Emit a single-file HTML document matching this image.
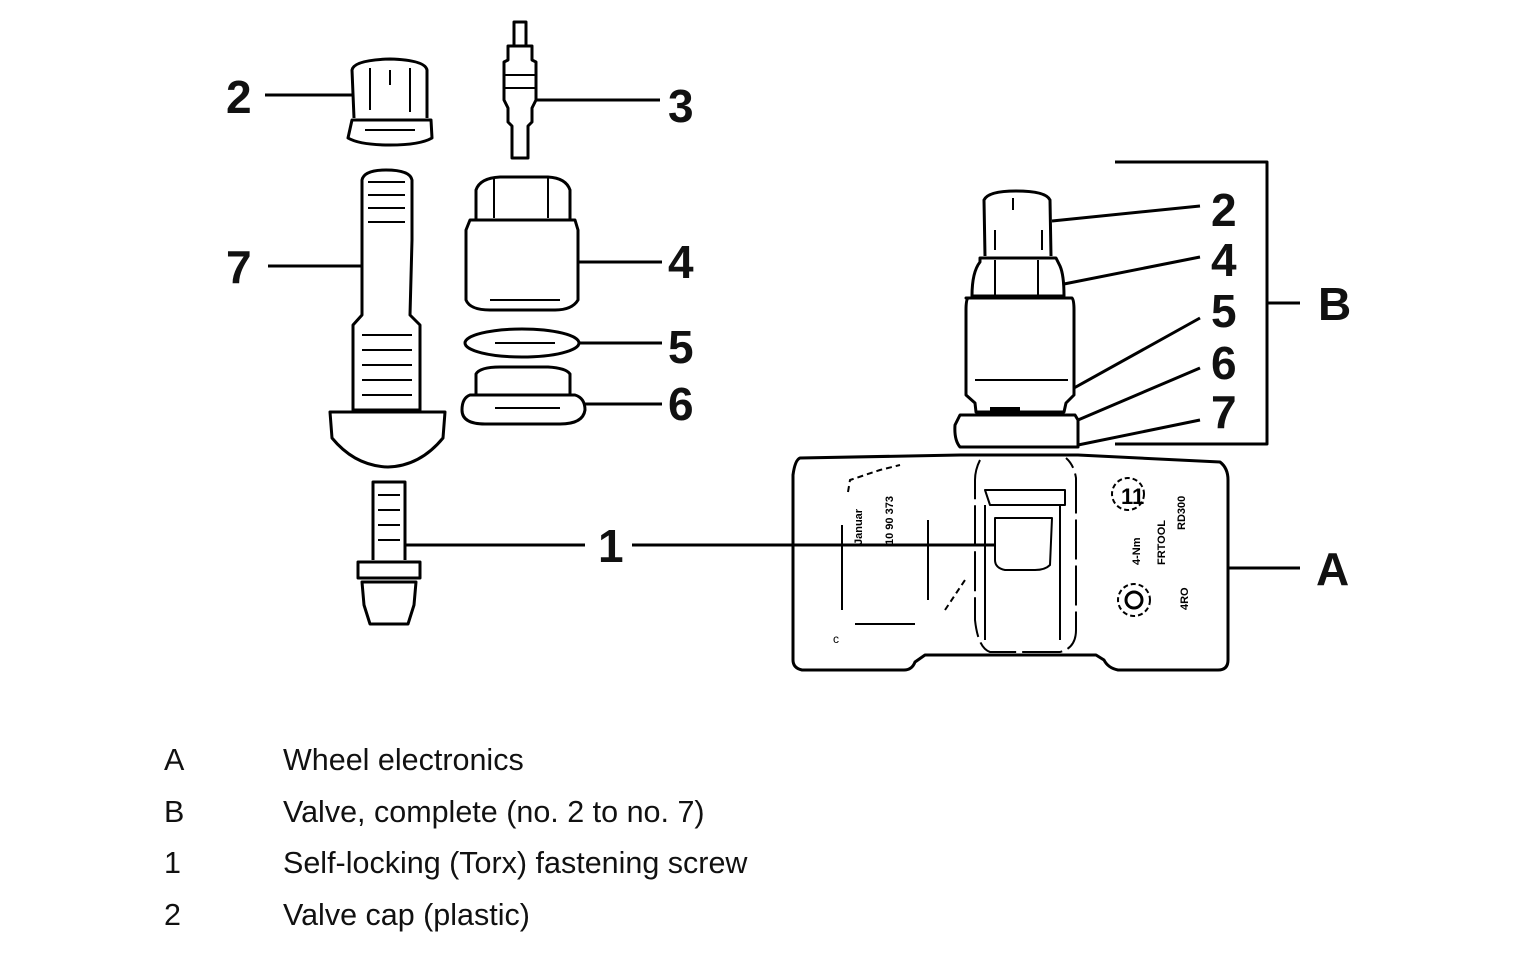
<!DOCTYPE html>
<html><head><meta charset="utf-8"><style>
body{margin:0;background:#fff;width:1536px;height:968px;overflow:hidden}
svg{position:absolute;left:0;top:0}
.lbl{font-family:"Liberation Sans",sans-serif;font-size:46px;font-weight:bold;fill:#111}
.leg{font-family:"Liberation Sans",sans-serif;font-size:30.5px;fill:#111}
</style></head><body>
<svg width="1536" height="968" viewBox="0 0 1536 968" fill="none" stroke="#000" stroke-width="3" stroke-linejoin="round">
<!-- left cap 2 -->
<path d="M354 118 L352 70 Q354 60 390 59 Q425 60 427 70 L427 118"/>
<line x1="370" y1="68" x2="370" y2="110" stroke-width="2"/><line x1="410" y1="68" x2="410" y2="112" stroke-width="2"/><line x1="390" y1="70" x2="390" y2="85" stroke-width="2"/>
<path d="M352 120 L431 120 L432 138 Q420 145 390 145 Q360 145 348 138 Z"/>
<line x1="365" y1="130" x2="415" y2="130" stroke-width="2"/>
<line x1="265" y1="95" x2="352" y2="95"/>
<!-- core 3 -->
<rect x="514" y="22" width="12" height="24"/>
<path d="M508 46 L532 46 L532 60 L536 62 L536 100 L532 108 L532 122 L528 126 L528 158 L512 158 L512 126 L508 122 L508 108 L504 100 L504 62 L508 60 Z"/>
<line x1="505" y1="75" x2="535" y2="75" stroke-width="2"/><line x1="505" y1="88" x2="535" y2="88" stroke-width="2"/>
<line x1="536" y1="100" x2="660" y2="100"/>
<!-- stem 7 -->
<path d="M362 240 L362 180 Q364 170 386 170 Q410 170 412 180 L412 240 L410 315 L420 325 L420 410 L353 410 L353 325 L362 315 Z"/>
<g stroke-width="2"><line x1="368" y1="182" x2="405" y2="182"/><line x1="368" y1="195" x2="405" y2="195"/><line x1="368" y1="208" x2="405" y2="208"/><line x1="368" y1="222" x2="405" y2="222"/><line x1="362" y1="335" x2="412" y2="335"/><line x1="362" y1="350" x2="412" y2="350"/><line x1="362" y1="365" x2="412" y2="365"/><line x1="362" y1="380" x2="412" y2="380"/><line x1="362" y1="395" x2="412" y2="395"/></g>
<path d="M330 412 L445 412 L443 438 Q420 466 388 467 Q355 466 332 438 Z"/>
<line x1="268" y1="266" x2="362" y2="266"/>
<!-- screw 1 -->
<path d="M373 560 L373 482 L405 482 L405 560"/>
<g stroke-width="2"><line x1="378" y1="495" x2="400" y2="495"/><line x1="378" y1="510" x2="400" y2="510"/><line x1="378" y1="525" x2="400" y2="525"/><line x1="378" y1="540" x2="400" y2="540"/></g>
<path d="M358 562 L420 562 L420 578 L358 578 Z"/>
<path d="M362 582 L416 582 L414 605 L408 624 L370 624 L364 605 Z"/>
<line x1="405" y1="545" x2="585" y2="545"/>
<!-- nut 4 -->
<path d="M476 220 L476 190 Q480 178 500 177 L548 177 Q566 178 570 190 L570 220"/>
<line x1="494" y1="178" x2="494" y2="218" stroke-width="2"/><line x1="548" y1="178" x2="548" y2="218" stroke-width="2"/>
<path d="M470 220 L575 220 L578 230 L578 300 Q572 310 555 310 L490 310 Q470 310 466 300 L466 230 Z"/>
<line x1="490" y1="300" x2="560" y2="300" stroke-width="2"/>
<line x1="578" y1="262" x2="662" y2="262"/>
<!-- ring 5 -->
<ellipse cx="522" cy="343" rx="57" ry="14"/>
<line x1="495" y1="343" x2="555" y2="343" stroke-width="2"/>
<line x1="579" y1="343" x2="662" y2="343"/>
<!-- part 6 -->
<path d="M476 395 L476 374 Q480 367 500 367 L548 367 Q566 368 570 374 L570 395"/>
<path d="M470 395 L575 395 Q585 398 585 410 Q583 424 560 424 L485 424 Q462 424 462 410 Q462 398 470 395 Z"/>
<line x1="495" y1="408" x2="560" y2="408" stroke-width="2"/>
<line x1="585" y1="404" x2="662" y2="404"/>
<!-- right assembly -->
<path d="M985 256 L984 200 Q988 191 1016 191 Q1046 191 1050 200 L1051 256"/>
<line x1="1013" y1="198" x2="1013" y2="210" stroke-width="2"/><line x1="995" y1="230" x2="995" y2="250" stroke-width="2"/><line x1="1042" y1="230" x2="1042" y2="250" stroke-width="2"/>
<path d="M980 258 L1056 258 L1060 266 Q1064 275 1064 296 L972 296 Q972 272 980 262 Z"/>
<line x1="995" y1="260" x2="995" y2="296" stroke-width="2"/><line x1="1038" y1="260" x2="1038" y2="296" stroke-width="2"/>
<path d="M966 298 L1072 298 Q1074 300 1074 310 L1074 395 L1066 403 L1064 412 L976 412 L975 403 L966 395 L966 310 Q966 300 968 298 Z"/>
<line x1="975" y1="380" x2="1068" y2="380" stroke-width="2"/>
<path d="M960 415 L1075 415 L1078 420 L1078 447 L960 447 Q954 440 955 425 Z"/>
<line x1="990" y1="409" x2="1020" y2="409" stroke-width="4"/>
<!-- housing -->
<path d="M800 458 L960 455 L1078 455 L1220 462 Q1228 468 1228 480 L1228 660 Q1228 670 1218 670 L1118 670 Q1108 668 1104 660 L1096 655 L925 655 L915 662 Q912 670 904 670 L802 670 Q793 668 793 660 L793 475 Q795 460 800 458 Z"/>
<path d="M980 460 Q975 470 975 480 L975 620 Q978 648 990 652 L1060 652 Q1076 648 1076 630 L1076 478 Q1074 465 1066 458" stroke-width="2" stroke-dasharray="40 6"/>
<path d="M985 490 L1065 490 L1065 505 L990 505 Z" stroke-width="2"/>
<path d="M995 518 L1052 518 L1050 565 Q1045 570 1035 570 L1005 570 Q995 568 995 560 Z" stroke-width="2"/>
<line x1="985" y1="505" x2="985" y2="640" stroke-width="2"/><line x1="1060" y1="505" x2="1060" y2="640" stroke-width="2"/>
<path d="M848 492 L850 480 L880 470 L900 465" stroke-width="2" stroke-dasharray="6 4"/>
<line x1="842" y1="525" x2="842" y2="610" stroke-width="2"/><line x1="928" y1="520" x2="928" y2="600" stroke-width="2"/>
<line x1="855" y1="624" x2="915" y2="624" stroke-width="2"/><line x1="945" y1="610" x2="965" y2="580" stroke-width="2" stroke-dasharray="6 4"/>
<text x="833" y="643" style="font:12px 'Liberation Sans',sans-serif" fill="#000" stroke="none">c</text>
<ellipse cx="1128" cy="494" rx="16" ry="16" stroke-width="2" stroke-dasharray="5 3"/>
<text x="1121" y="504" style="font:bold 22px 'Liberation Sans',sans-serif" fill="#000" stroke="none">11</text>
<circle cx="1134" cy="600" r="16" stroke-width="2" stroke-dasharray="5 3"/>
<circle cx="1134" cy="600" r="8" stroke-width="3"/>
<g fill="#000" stroke="none" font-family="Liberation Sans,sans-serif" font-size="11" font-weight="bold">
<text transform="translate(862 545) rotate(-90)">Januar</text>
<text transform="translate(893 545) rotate(-90)">10 90 373</text>
<text transform="translate(1140 565) rotate(-90)">4-Nm</text>
<text transform="translate(1165 565) rotate(-90)">FRTOOL</text>
<text transform="translate(1185 530) rotate(-90)">RD300</text>
<text transform="translate(1188 610) rotate(-90)">4RO</text>
</g>
<line x1="632" y1="545" x2="995" y2="545"/>
<!-- leaders right -->
<g stroke-width="3">
<line x1="1052" y1="221" x2="1200" y2="206"/>
<line x1="1064" y1="284" x2="1200" y2="257"/>
<line x1="1074" y1="388" x2="1200" y2="318"/>
<line x1="1078" y1="420" x2="1200" y2="368"/>
<line x1="1078" y1="445" x2="1200" y2="420"/>
<path d="M1115 162 L1267 162 L1267 444 L1115 444"/>
<line x1="1267" y1="303" x2="1300" y2="303"/>
<line x1="1228" y1="568" x2="1300" y2="568"/>
</g>
<g stroke="none">
<text class="lbl" x="226" y="113">2</text>
<text class="lbl" x="668" y="122">3</text>
<text class="lbl" x="668" y="278">4</text>
<text class="lbl" x="668" y="363">5</text>
<text class="lbl" x="668" y="420">6</text>
<text class="lbl" x="226" y="283">7</text>
<text class="lbl" x="598" y="562">1</text>
<text class="lbl" x="1211" y="226">2</text>
<text class="lbl" x="1211" y="276">4</text>
<text class="lbl" x="1211" y="327">5</text>
<text class="lbl" x="1211" y="379">6</text>
<text class="lbl" x="1211" y="428">7</text>
<text class="lbl" x="1318" y="320">B</text>
<text class="lbl" x="1316" y="585">A</text>
<text class="leg" x="164" y="770">A</text><text class="leg" x="283" y="770">Wheel electronics</text>
<text class="leg" x="164" y="822">B</text><text class="leg" x="283" y="822">Valve, complete (no. 2 to no. 7)</text>
<text class="leg" x="164" y="873">1</text><text class="leg" x="283" y="873">Self-locking (Torx) fastening screw</text>
<text class="leg" x="164" y="925">2</text><text class="leg" x="283" y="925">Valve cap (plastic)</text>
</g>
</svg>
</body></html>
